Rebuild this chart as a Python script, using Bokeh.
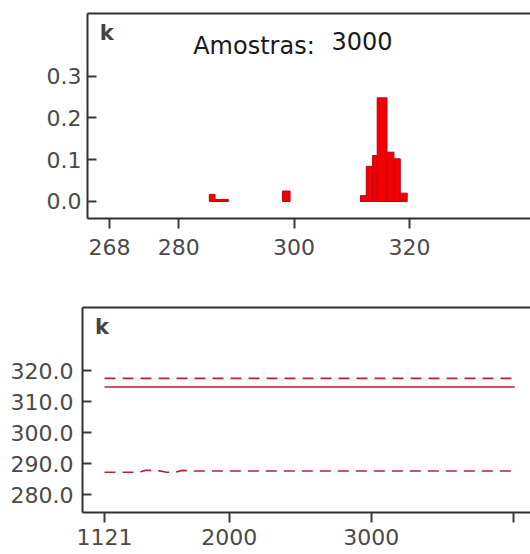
from bokeh.plotting import figure
from bokeh.models import (LinearAxis, FixedTicker, PrintfTickFormatter, Label,
                          Range1d)
from bokeh.embed import file_html
from bokeh.resources import INLINE

# --- posterior histogram of k (density per bin) ---
bin_left = [285.3, 286.3, 298.0, 311.5, 312.5, 313.6, 314.4, 316.1, 317.3, 318.4]
bin_right = [286.3, 288.6, 299.3, 312.5, 313.6, 314.4, 316.1, 317.3, 318.4, 319.6]
density = [0.017, 0.005, 0.025, 0.014, 0.084, 0.110, 0.248, 0.118, 0.102, 0.020]
hist_xticks = [268, 280, 300, 320]
hist_yticks = [0.0, 0.1, 0.2, 0.3]
n_samples = "3000"

# --- running quantiles of k over the iterations ---
iter_upper = [1121, 4005]
k_upper = [317.5, 317.5]
iter_median = [1121, 4010]
k_median = [314.7, 314.7]
iter_lower = [1121, 1360, 1410, 1490, 1560, 1620, 1670, 1740, 3990]
k_lower = [287.2, 287.2, 287.8, 287.8, 287.2, 287.2, 287.8, 287.6, 287.6]
trace_xticks = [1121, 2000, 3000]
trace_xticks_unlabelled = [4000]
trace_yticks = [280, 290, 300, 310, 320]

FONT = "DejaVu Sans"
BOX = "#303030"
TICKC = "#3a3a3a"
LABC = "#4a4a4a"
LINE_RED = "#b3262f"


def style(p, xticks, yticks, yfmt, std_x, std_y, xminor=()):
    p.outline_line_color = None
    p.xgrid.visible = False
    p.ygrid.visible = False
    p.background_fill_color = "white"
    p.border_fill_color = "white"
    for ax in p.xaxis:
        ax.ticker = FixedTicker(ticks=xticks, minor_ticks=list(xminor))
        ax.axis_line_color = BOX
        ax.axis_line_width = 2
        ax.major_tick_in = 0
        ax.major_tick_out = 10
        ax.major_tick_line_color = TICKC
        ax.major_tick_line_width = 2
        # unlabelled ticks look the same as the labelled ones
        ax.minor_tick_in = 0
        ax.minor_tick_out = 10
        ax.minor_tick_line_color = TICKC
        ax.minor_tick_line_width = 2
        ax.major_label_text_font = FONT
        ax.major_label_text_font_size = "22px"
        ax.major_label_text_color = LABC
        ax.major_label_standoff = std_x
    for ax in p.yaxis:
        ax.ticker = FixedTicker(ticks=yticks)
        ax.formatter = PrintfTickFormatter(format=yfmt)
        ax.axis_line_color = BOX
        ax.axis_line_width = 2
        ax.major_tick_in = 9
        ax.major_tick_out = 0
        ax.major_tick_line_color = TICKC
        ax.major_tick_line_width = 2
        ax.minor_tick_line_color = None
        ax.major_label_text_font = FONT
        ax.major_label_text_font_size = "22px"
        ax.major_label_text_color = LABC
        ax.major_label_standoff = std_y
    # top edge of the box
    top = LinearAxis(ticker=FixedTicker(ticks=[]), axis_line_color=BOX,
                     axis_line_width=2, major_tick_in=0, major_tick_out=0,
                     minor_tick_line_color=None, major_label_standoff=0,
                     major_label_text_font_size="0px")
    p.add_layout(top, "above")


# ---------------- histogram panel ----------------
p1 = figure(width=530, height=280, output_backend="svg", toolbar_location=None,
            x_range=Range1d(264.19, 340.97), y_range=Range1d(-0.0407, 0.4498),
            min_border_left=87, min_border_right=0, min_border_top=13,
            min_border_bottom=62)
style(p1, hist_xticks, hist_yticks, "%.1f", std_x=10, std_y=6)
p1.quad(left=bin_left, right=bin_right, top=density, bottom=0,
        fill_color="#f20000", line_color="#c0001a", line_width=1)
p1.add_layout(Label(x=266.3, y=0.431, text="k", text_font=FONT,
                    text_font_style="bold", text_font_size="21px",
                    text_color="#444444", text_baseline="top",
                    text_align="left"))
p1.add_layout(Label(x=282.51, y=0.4045, text="Amostras:", text_font=FONT,
                    text_font_size="24px", text_color="#1a1a1a",
                    text_baseline="top", text_align="left"))
p1.add_layout(Label(x=306.47, y=0.4045, text=n_samples, text_font=FONT,
                    text_font_size="24px", text_color="#1a1a1a",
                    text_baseline="top", text_align="left"))

# ---------------- trace panel ----------------
p2 = figure(width=530, height=274, output_backend="svg", toolbar_location=None,
            x_range=Range1d(966, 4121), y_range=Range1d(274.21, 340.37),
            min_border_left=82, min_border_right=0, min_border_top=27,
            min_border_bottom=42)
style(p2, trace_xticks, trace_yticks, "%.1f", std_x=6, std_y=9,
      xminor=trace_xticks_unlabelled)
p2.line(iter_upper, k_upper, line_color=LINE_RED, line_width=1.6,
        line_dash="11 7")
p2.line(iter_median, k_median, line_color=LINE_RED, line_width=1.6)
p2.line(iter_lower, k_lower, line_color=LINE_RED, line_width=1.6,
        line_dash="11 7")
p2.add_layout(Label(x=1054.7, y=337.8, text="k", text_font=FONT,
                    text_font_style="bold", text_font_size="21px",
                    text_color="#444444", text_baseline="top",
                    text_align="left"))

# two independent roots, stacked top to bottom
open("out.html", "w").write(file_html([p1, p2], INLINE))
